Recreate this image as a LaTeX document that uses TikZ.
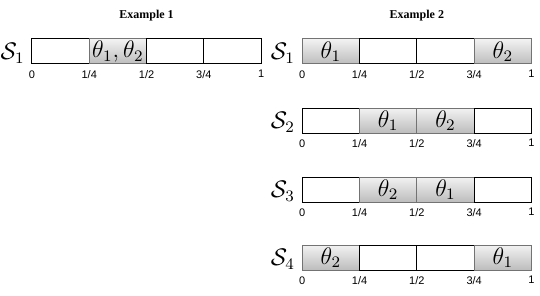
\documentclass[tikz,border=0pt]{standalone}
\usepackage{amsmath}
\usepackage{amssymb}
\usepackage[no-math]{fontspec}
\newfontfamily\titlefont{Liberation Serif}
\newfontfamily\tickfont{Liberation Sans}
\usetikzlibrary{positioning}

\begin{document}
\begin{tikzpicture}[x=0.5pt, y=0.5pt,
    cell/.style={rectangle, draw, line width=0.5pt, minimum width=28.65pt, minimum height=12.5pt, inner sep=0pt, outer sep=0pt, font=\large},
    slot/.style={cell, draw=black!55, top color=gray!10, bottom color=gray!52},
    tick/.style={below=3pt, inner sep=0pt, font=\fontsize{5.5}{6}\tickfont},
    rowlabel/.style={inner sep=0pt, font=\large, yshift=-1pt},
    title/.style={inner sep=0pt, font=\fontsize{6}{7}\titlefont\bfseries}
]
\useasboundingbox (0,0) rectangle (540,295);

% Example 1
\node[cell] (x1a) at (60.6,243.5) {};
\node[slot, right=0pt of x1a] (x1b) {$\theta_1,\theta_2$};
\node[cell, right=0pt of x1b] (x1c) {};
\node[cell, right=0pt of x1c] (x1d) {};
\node[rowlabel, left=3.5pt of x1a] (s0) {$\mathcal{S}_1$};
\node[title, above=9pt of x1b.north east] (t1) {Example 1};

% Example 2
\node[slot] (r1a) at (330.9,243.5) {$\theta_1$};
\node[cell, right=0pt of r1a] (r1b) {};
\node[cell, right=0pt of r1b] (r1c) {};
\node[slot, right=0pt of r1c] (r1d) {$\theta_2$};
\node[rowlabel, left=3.5pt of r1a] (s1) {$\mathcal{S}_1$};
\node[title, above=9pt of r1b.north east] (t2) {Example 2};

\node[cell, below=22pt of r1a] (r2a) {};
\node[slot, right=0pt of r2a] (r2b) {$\theta_1$};
\node[slot, right=0pt of r2b] (r2c) {$\theta_2$};
\node[cell, right=0pt of r2c] (r2d) {};
\node[rowlabel, left=3.5pt of r2a] (s2) {$\mathcal{S}_2$};

\node[cell, below=22pt of r2a] (r3a) {};
\node[slot, right=0pt of r3a] (r3b) {$\theta_2$};
\node[slot, right=0pt of r3b] (r3c) {$\theta_1$};
\node[cell, right=0pt of r3c] (r3d) {};
\node[rowlabel, left=3.5pt of r3a] (s3) {$\mathcal{S}_3$};

\node[slot, below=21.5pt of r3a] (r4a) {$\theta_2$};
\node[cell, right=0pt of r4a] (r4b) {};
\node[cell, right=0pt of r4b] (r4c) {};
\node[slot, right=0pt of r4c] (r4d) {$\theta_1$};
\node[rowlabel, left=3.5pt of r4a] (s4) {$\mathcal{S}_4$};

% tick labels
\foreach \r in {x1,r1,r2,r3,r4} {
  \node[tick] (\r t0) at (\r a.south west) {0};
  \node[tick] (\r t1) at (\r a.south east) {1/4};
  \node[tick] (\r t2) at (\r b.south east) {1/2};
  \node[tick] (\r t3) at (\r c.south east) {3/4};
  \node[tick] (\r t4) at (\r d.south east) {1};
}

\end{tikzpicture}
\end{document}
